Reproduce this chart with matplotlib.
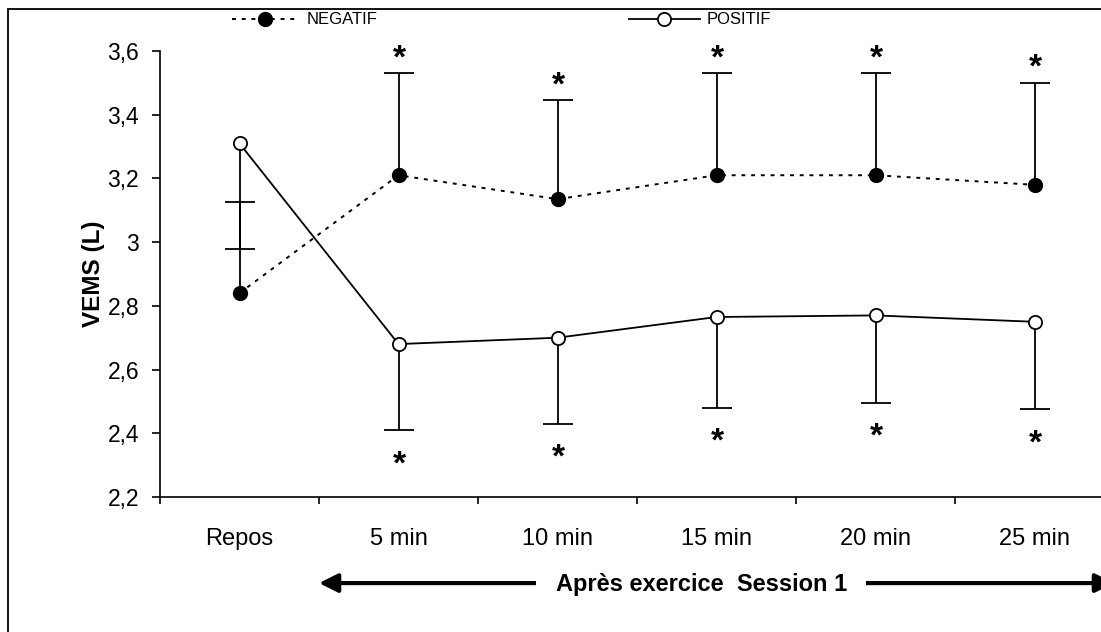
import matplotlib
matplotlib.use('Agg')
import matplotlib.pyplot as plt
import matplotlib.transforms as mtransforms
from matplotlib.patches import Rectangle
import numpy as np

# données
categories = ['Repos', '5 min', '10 min', '15 min', '20 min', '25 min']
negatif = [2.84, 3.21, 3.135, 3.21, 3.21, 3.18]
negatif_haut = [3.125, 3.53, 3.445, 3.53, 3.53, 3.50]
positif = [3.31, 2.68, 2.70, 2.765, 2.77, 2.75]
positif_bas = [2.98, 2.41, 2.43, 2.48, 2.495, 2.475]
etoile = [False, True, True, True, True, True]
y_ticks = [2.2, 2.4, 2.6, 2.8, 3.0, 3.2, 3.4, 3.6]
y_tick_labels = ['2,2', '2,4', '2,6', '2,8', '3', '3,2', '3,4', '3,6']

plt.rcParams['font.family'] = ['Liberation Sans', 'DejaVu Sans']
narrow = ['Liberation Sans Narrow', 'Liberation Sans', 'DejaVu Sans']

fig = plt.figure(figsize=(11.01, 6.32), dpi=100)
ax = fig.add_axes([160 / 1101, 135 / 632, 954 / 1101, 446 / 632])
x = np.arange(len(categories))

# barres d'erreur (un seul côté)
neg_err = [np.zeros(len(x)), np.array(negatif_haut) - np.array(negatif)]
pos_err = [np.array(positif) - np.array(positif_bas), np.zeros(len(x))]
eb = ax.errorbar(x, negatif, yerr=neg_err, fmt='none', ecolor='black',
                 elinewidth=1.3, capsize=10.5, capthick=1.3, zorder=2)
eb[1][0].set_visible(False)
eb = ax.errorbar(x, positif, yerr=pos_err, fmt='none', ecolor='black',
                 elinewidth=1.3, capsize=10.5, capthick=1.3, zorder=2)
eb[1][1].set_visible(False)

neg_line, = ax.plot(x, negatif, linestyle=(0, (2, 3)), color='black', lw=1.4,
                    marker='o', ms=10, mfc='black', mec='black', zorder=3)
pos_line, = ax.plot(x, positif, linestyle='-', color='black', lw=1.3,
                    marker='o', ms=9.5, mfc='white', mec='black', mew=1.3, zorder=4)

# étoiles de significativité
for i in x:
    if etoile[i]:
        ax.annotate('*', (i, negatif_haut[i]), xytext=(1, 6), textcoords='offset pixels',
                    ha='center', va='baseline', fontsize=24, fontweight='bold')
        ax.annotate('*', (i, positif_bas[i]), xytext=(1, -43), textcoords='offset pixels',
                    ha='center', va='baseline', fontsize=24, fontweight='bold')

ax.set_xlim(-0.5, 5.5)
ax.set_ylim(2.2, 3.6)
ax.set_yticks(y_ticks, y_tick_labels)
ax.set_xticks(np.arange(-0.5, 6, 1))
ax.set_xticklabels([])
ax.set_xticks(x, minor=True)
ax.set_xticklabels(categories, minor=True)
ax.tick_params(axis='x', which='major', length=5, width=1.2, direction='out')
ax.tick_params(axis='x', which='minor', length=0, pad=22, labelsize=17)
ax.tick_params(axis='y', length=6, width=1.2, pad=9, labelsize=16.5)
for s in ['top', 'right']:
    ax.spines[s].set_visible(False)
for s in ['left', 'bottom']:
    ax.spines[s].set_linewidth(1.2)

ax.set_ylabel('VEMS (L)', fontweight='bold', fontsize=17.5)
ax.yaxis.set_label_coords(-0.058, 0.5)

# légendes
leg1 = ax.legend(handles=[neg_line], labels=['NEGATIF'], loc='center left',
                 bbox_to_anchor=(232 / 1101, 1 - 20 / 632), bbox_transform=fig.transFigure,
                 frameon=False, handlelength=3.9, handletextpad=0.6, borderpad=0,
                 borderaxespad=0, numpoints=1, prop={'family': narrow, 'size': 12})
ax.add_artist(leg1)
ax.legend(handles=[pos_line], labels=['POSITIF'], loc='center left',
          bbox_to_anchor=(629 / 1101, 1 - 20 / 632), bbox_transform=fig.transFigure,
          frameon=False, handlelength=4.25, handletextpad=0.42, borderpad=0,
          borderaxespad=0, numpoints=1, prop={'family': narrow, 'size': 12})

# flèche "Après exercice Session 1"
trans = mtransforms.blended_transform_factory(ax.transData, ax.transAxes)
ax.annotate('', xy=(0.5, -0.193), xytext=(5.5, -0.193),
            xycoords=('data', 'axes fraction'), textcoords=('data', 'axes fraction'),
            arrowprops=dict(arrowstyle='<|-|>', lw=3, color='black', mutation_scale=28,
                            shrinkA=0, shrinkB=0),
            annotation_clip=False)
ax.text(2.905, -0.197, 'Après exercice  Session 1', transform=trans, ha='center', va='center',
        fontweight='bold', fontsize=17, family=narrow,
        bbox=dict(facecolor='white', edgecolor='none', pad=14))

# cadre autour de la figure
fig.patches.append(Rectangle((8 / 1101, -0.05), 1.1, 1 - 9 / 632 + 0.05,
                             transform=fig.transFigure, fill=False, lw=1.3,
                             edgecolor='black'))

fig.savefig('out.png', dpi=100)
